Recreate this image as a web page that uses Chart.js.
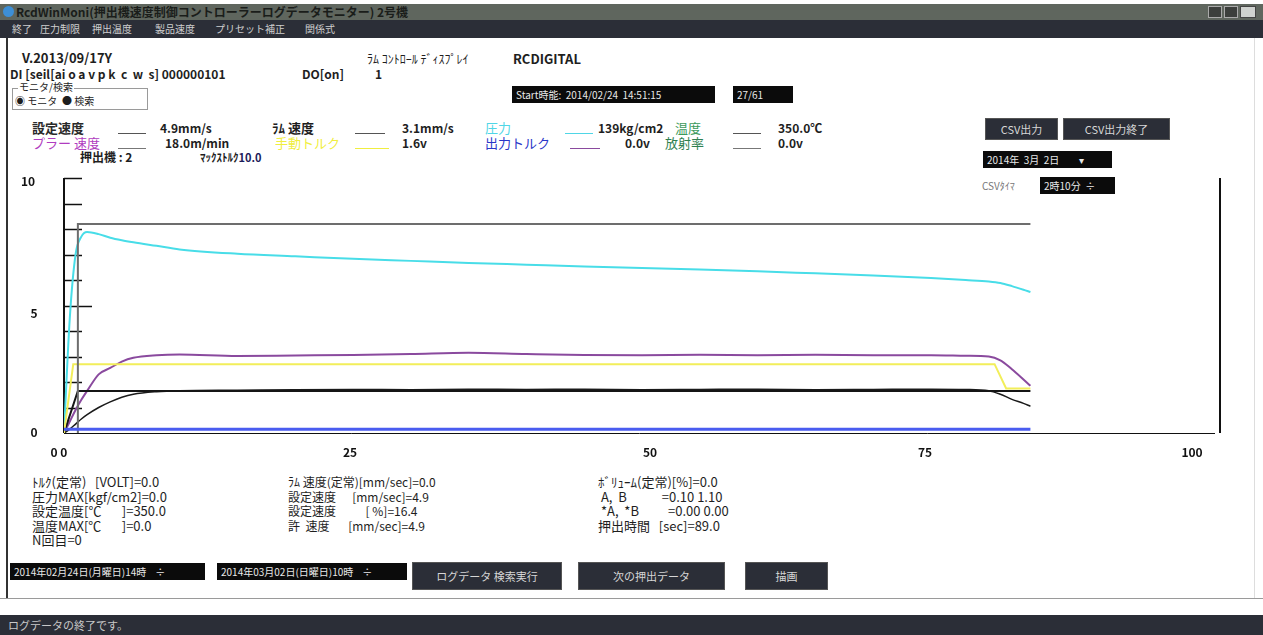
<!DOCTYPE html>
<html lang="ja">
<head>
<meta charset="utf-8">
<title>RcdWinMoni</title>
<script src="https://cdn.jsdelivr.net/npm/chart.js@4.4.1/dist/chart.umd.min.js"></script>
<style>
  html, body { margin: 0; padding: 0; background: #fff; }
  #win { position: relative; width: 1263px; height: 635px; overflow: hidden; background: #fff;
         font-family: "Noto Sans CJK JP", "Noto Sans", sans-serif; }
  .abs { position: absolute; }
  .t { position: absolute; white-space: pre; font-size: 12px; line-height: 14px; color: #1e1e1e; }
  .b { font-weight: 700; }
  .s13 { font-size: 13px; line-height: 14px; }
  .box { position: absolute; background: #0b0b0b; color: #e8e8e8; font-size: 10px; line-height: 17px;
         white-space: pre; padding-left: 4px; box-sizing: border-box; }
  .btn { position: absolute; background: #2b2e37; color: #d6d6d6; font-size: 11px; text-align: center;
         border: 1px solid #555; box-sizing: border-box; }
  .ul { position: absolute; height: 1px; }
  .menu { position: absolute; top: 22px; font-size: 10px; line-height: 14px; color: #cfcfcf; white-space: pre; }
  canvas { position: absolute; left: 0; top: 0; }
</style>
</head>
<body>
<div id="win">
  <!-- window chrome -->
  <div class="abs" style="left:0;top:4px;width:1263px;height:16px;background:#5f665e;"></div>
  <div class="abs" style="left:3px;top:6px;width:11px;height:11px;border-radius:6px;background:#3d8fd6;"></div>
  <div class="t" style="left:16px;top:5px;font-size:12px;font-weight:600;color:#1a1d1a;">RcdWinMoni(押出機速度制御コントローラーログデータモニター) 2号機</div>
  <div class="abs" style="left:1208px;top:6px;width:14px;height:12px;background:#3c3f3c;border:1px solid #aaa;box-sizing:border-box;"></div>
  <div class="abs" style="left:1224px;top:6px;width:14px;height:12px;background:#3c3f3c;border:1px solid #aaa;box-sizing:border-box;"></div>
  <div class="abs" style="left:1240px;top:6px;width:16px;height:12px;background:#cfd2cf;border:1px solid #444;box-sizing:border-box;"></div>
  <div class="abs" style="left:0;top:20px;width:1263px;height:18px;background:#2b2e37;"></div>
  <div class="menu" style="left:12px;">終了</div>
  <div class="menu" style="left:40px;">圧力制限</div>
  <div class="menu" style="left:92px;">押出温度</div>
  <div class="menu" style="left:155px;">製品速度</div>
  <div class="menu" style="left:215px;">プリセット補正</div>
  <div class="menu" style="left:305px;">関係式</div>
  <div class="abs" style="left:6px;top:38px;width:2px;height:560px;background:#333;"></div>
  <div class="abs" style="left:1254px;top:38px;width:1px;height:560px;background:#ddd;"></div>

  <!-- header info -->
  <div class="t b" style="left:22px;top:51px;font-size:13px;">V.2013/09/17Y</div>
  <div class="t b" style="left:10px;top:67px;">DI [seil[ai o a v p k  c  w  s] 000000101</div>
  <div class="t b" style="left:302px;top:67px;">DO[on]</div>
  <div class="t b" style="left:375px;top:67px;">1</div>
  <div class="t" style="left:367px;top:52px;font-size:12px;">ﾗﾑ ｺﾝﾄﾛｰﾙ ﾃﾞｨｽﾌﾟﾚｲ</div>
  <div class="t b" style="left:513px;top:52px;font-size:13px;">RCDIGITAL</div>
  <div class="box" style="left:512px;top:86px;width:203px;height:17px;">Start時能:  2014/02/24  14:51:15</div>
  <div class="box" style="left:733px;top:86px;width:60px;height:17px;">27/61</div>

  <div class="abs" style="left:12px;top:88px;width:136px;height:22px;border:1px solid #9a9a9a;box-sizing:border-box;"></div>
  <div class="t" style="left:18px;top:81px;font-size:10px;line-height:11px;background:#fff;padding:0 1px;">モニタ/検索</div>
  <div class="t" style="left:15px;top:94px;font-size:10px;">◉ モニタ</div>
  <div class="t" style="left:62px;top:94px;font-size:10px;">● 検索</div>

  <!-- legend rows -->
  <div class="t b s13" style="left:32px;top:121px;color:#2a2a2a;">設定速度</div>
  <div class="ul" style="left:118px;top:133px;width:28px;background:#555;"></div>
  <div class="t b" style="left:160px;top:121px;">4.9mm/s</div>
  <div class="t b s13" style="left:272px;top:121px;">ﾗﾑ 速度</div>
  <div class="ul" style="left:355px;top:133px;width:30px;background:#555;"></div>
  <div class="t b" style="left:402px;top:121px;">3.1mm/s</div>
  <div class="t s13" style="left:485px;top:121px;color:#4fd6e6;">圧力</div>
  <div class="ul" style="left:565px;top:133px;width:28px;background:#4fd6e6;"></div>
  <div class="t b" style="left:598px;top:121px;">139kg/cm2</div>
  <div class="t s13" style="left:675px;top:121px;color:#3c9a5c;">温度</div>
  <div class="ul" style="left:733px;top:133px;width:28px;background:#555;"></div>
  <div class="t b" style="left:778px;top:121px;">350.0℃</div>

  <div class="t s13" style="left:32px;top:136px;color:#b03cc0;">プラー 速度</div>
  <div class="ul" style="left:118px;top:148px;width:28px;background:#777;"></div>
  <div class="t b" style="left:165px;top:136px;">18.0m/min</div>
  <div class="t s13" style="left:275px;top:136px;color:#f0ee40;">手動トルク</div>
  <div class="ul" style="left:355px;top:148px;width:34px;background:#f0ee40;"></div>
  <div class="t b" style="left:402px;top:136px;">1.6v</div>
  <div class="t s13" style="left:485px;top:136px;color:#2a36c8;">出力トルク</div>
  <div class="ul" style="left:570px;top:148px;width:30px;background:#8a4a9e;"></div>
  <div class="t b" style="left:625px;top:136px;">0.0v</div>
  <div class="t s13" style="left:665px;top:136px;color:#2f7f50;">放射率</div>
  <div class="ul" style="left:733px;top:148px;width:28px;background:#777;"></div>
  <div class="t b" style="left:778px;top:136px;">0.0v</div>

  <div class="t b" style="left:80px;top:150px;">押出機 : 2</div>
  <div class="t b" style="left:200px;top:150px;font-size:11px;">ﾏｯｸｽﾄﾙｸ<span style="color:#1c1c5a;">10.0</span></div>

  <!-- right controls -->
  <div class="btn" style="left:985px;top:118px;width:73px;height:22px;line-height:20px;">CSV出力</div>
  <div class="btn" style="left:1063px;top:118px;width:107px;height:22px;line-height:20px;">CSV出力終了</div>
  <div class="box" style="left:983px;top:151px;width:129px;height:17px;">2014年  3月  2日         ▾</div>
  <div class="t" style="left:982px;top:179px;font-size:10px;color:#777;">CSVﾀｲﾏ</div>
  <div class="box" style="left:1040px;top:177px;width:75px;height:17px;">2時10分  ÷</div>

  <!-- bottom summary -->
  <div class="t s13" style="left:32px;top:475px;">ﾄﾙｸ(定常)   [VOLT]=0.0</div>
  <div class="t s13" style="left:32px;top:490px;">圧力MAX[kgf/cm2]=0.0</div>
  <div class="t s13" style="left:32px;top:504px;">設定温度[℃       ]=350.0</div>
  <div class="t s13" style="left:32px;top:519px;">温度MAX[℃       ]=0.0</div>
  <div class="t s13" style="left:32px;top:533px;">N回目=0</div>

  <div class="t" style="left:288px;top:475px;">ﾗﾑ 速度(定常)[mm/sec]=0.0</div>
  <div class="t" style="left:288px;top:490px;">設定速度      [mm/sec]=4.9</div>
  <div class="t" style="left:288px;top:504px;">設定速度           [ %]=16.4</div>
  <div class="t" style="left:288px;top:519px;">許  速度       [mm/sec]=4.9</div>

  <div class="t s13" style="left:598px;top:475px;">ﾎﾞﾘｭｰﾑ(定常)[%]=0.0</div>
  <div class="t s13" style="left:598px;top:490px;"> A,  B            =0.10 1.10</div>
  <div class="t s13" style="left:598px;top:504px;"> *A,  *B          =0.00 0.00</div>
  <div class="t s13" style="left:598px;top:519px;">押出時間   [sec]=89.0</div>

  <div class="box" style="left:10px;top:563px;width:195px;height:17px;">2014年02月24日(月曜日)14時    ÷</div>
  <div class="box" style="left:217px;top:563px;width:190px;height:17px;">2014年03月02日(日曜日)10時    ÷</div>
  <div class="btn" style="left:412px;top:562px;width:150px;height:28px;line-height:26px;">ログデータ  検索実行</div>
  <div class="btn" style="left:578px;top:562px;width:147px;height:28px;line-height:26px;">次の押出データ</div>
  <div class="btn" style="left:745px;top:562px;width:83px;height:28px;line-height:26px;">描画</div>

  <div class="abs" style="left:0;top:598px;width:1263px;height:1px;background:#9a9a9a;"></div>
  <div class="abs" style="left:0;top:615px;width:1263px;height:20px;background:#2b2e37;"></div>
  <div class="t" style="left:8px;top:618px;font-size:11px;color:#c8c8c8;">ログデータの終了です。</div>

  <canvas id="chart" width="1263" height="635"></canvas>
</div>

<script>
// time axis in seconds for the sampled curves
const TIME = [0, 0.5, 1, 1.5, 2, 3, 4, 5, 6, 8, 10, 15, 20, 25, 30, 35, 40, 45, 50, 55, 60, 65, 70, 75, 78, 80, 81, 82, 83, 83.6];

// 圧力 (scaled 0-10)
const PRESSURE = [0, 4.5, 7.0, 7.7, 7.88, 7.8, 7.66, 7.56, 7.48, 7.34, 7.2, 7.03, 6.93, 6.83, 6.75, 6.67, 6.6, 6.53, 6.47, 6.41, 6.34, 6.26, 6.18, 6.08, 6.0, 5.94, 5.88, 5.76, 5.62, 5.53];
// 出力トルク
const OUTPUT_TORQUE = [0, 0.45, 0.9, 1.3, 1.65, 2.3, 2.55, 2.8, 2.95, 3.05, 3.08, 3.02, 3.04, 3.06, 3.1, 3.15, 3.1, 3.06, 3.05, 3.07, 3.05, 3.07, 3.05, 3.05, 3.03, 3.0, 2.85, 2.5, 2.1, 1.85];
// ラム速度
const RAM_SPEED = [0, 0.15, 0.35, 0.55, 0.72, 1.0, 1.22, 1.4, 1.52, 1.62, 1.66, 1.68, 1.7, 1.71, 1.7, 1.72, 1.71, 1.72, 1.7, 1.71, 1.72, 1.7, 1.71, 1.72, 1.71, 1.66, 1.52, 1.32, 1.16, 1.05];

// step-shaped traces, each with its own time points
const SET_SPEED_TIME = [0, 1.2, 83.6];
const SET_SPEED = [0, 1.65, 1.65];
const TEMP_TIME = [1.2, 1.2, 83.6];
const TEMP = [0, 8.2, 8.2];
const MANUAL_TORQUE_TIME = [0, 0.8, 80.5, 81.5, 83.6];
const MANUAL_TORQUE = [0, 2.7, 2.7, 1.75, 1.75];
const EMISSIVITY_TIME = [0, 83.6];
const EMISSIVITY = [0.15, 0.15];

// axis labels
const X_TICKS = [25, 50, 75, 100];
const X_TICK_LABELS = ['25', '50', '75', '100'];
const Y_TICKS = [0, 5, 10];
const Y_TICK_LABELS = ['0', '5', '10'];

const pts = (ts, vs) => ts.map((t, i) => ({ x: t, y: vs[i] }));

// axes drawn the way the monitor draws them: ticks pointing into the plot
const monitorAxes = {
  id: 'monitorAxes',
  beforeDatasetsDraw(chart) {
    const { ctx, chartArea: a, scales: { x, y } } = chart;
    ctx.save();
    ctx.strokeStyle = '#111';
    ctx.lineWidth = 2;
    ctx.beginPath();
    ctx.moveTo(a.left, y.getPixelForValue(10));
    ctx.lineTo(a.left, y.getPixelForValue(0));
    ctx.stroke();
    ctx.lineWidth = 1.5;
    for (let v = 1; v <= 10; v++) {
      const py = Math.round(y.getPixelForValue(v)) + 0.5;
      ctx.beginPath();
      ctx.moveTo(a.left, py);
      ctx.lineTo(a.left + (v === 5 ? 28 : 18), py);
      ctx.stroke();
    }
    ctx.lineWidth = 1;
    const py0 = Math.round(y.getPixelForValue(0)) + 0.5;
    ctx.beginPath();
    ctx.moveTo(a.left, py0);
    ctx.lineTo(a.right - 5, py0);
    ctx.stroke();
    ctx.lineWidth = 2;
    ctx.beginPath();
    ctx.moveTo(a.right, a.top);
    ctx.lineTo(a.right, a.bottom);
    ctx.stroke();

    ctx.fillStyle = '#111';
    ctx.font = 'bold 12px "Noto Sans CJK JP", sans-serif';
    ctx.textBaseline = 'middle';
    ctx.textAlign = 'center';
    const yShift = [ -1, 8, 3 ];
    Y_TICKS.forEach((v, i) => {
      const lx = Y_TICK_LABELS[i].length > 1 ? 28 : 34;
      ctx.fillText(Y_TICK_LABELS[i], lx, y.getPixelForValue(v) + yShift[i]);
    });
    const xShift = [ -3, 8, -6, -28 ];
    const ly = y.getPixelForValue(0) + 19;
    ctx.fillText('0 0', 59, ly);
    X_TICKS.forEach((v, i) => {
      ctx.fillText(X_TICK_LABELS[i], x.getPixelForValue(v) + xShift[i], ly);
    });
    ctx.restore();
  }
};

const smooth = { cubicInterpolationMode: 'monotone', tension: 0.4 };

new Chart(document.getElementById('chart'), {
  type: 'line',
  data: {
    datasets: [
      { label: '放射率', data: pts(EMISSIVITY_TIME, EMISSIVITY), borderColor: '#4a5cf0', borderWidth: 3, tension: 0 },
      { label: '温度', data: pts(TEMP_TIME, TEMP), borderColor: '#6d6d6d', borderWidth: 2, tension: 0 },
      { label: '手動トルク', data: pts(MANUAL_TORQUE_TIME, MANUAL_TORQUE), borderColor: '#f2ee5a', borderWidth: 2, tension: 0 },
      { label: '設定速度', data: pts(SET_SPEED_TIME, SET_SPEED), borderColor: '#151515', borderWidth: 2, tension: 0 },
      { label: 'ラム速度', data: pts(TIME, RAM_SPEED), borderColor: '#1a1a1a', borderWidth: 1.5, ...smooth },
      { label: '出力トルク', data: pts(TIME, OUTPUT_TORQUE), borderColor: '#8a4a9e', borderWidth: 2, ...smooth },
      { label: '圧力', data: pts(TIME, PRESSURE), borderColor: '#48dde8', borderWidth: 2, ...smooth }
    ]
  },
  options: {
    responsive: false,
    animation: false,
    layout: { padding: { left: 64, right: 43, top: 178, bottom: 202 } },
    elements: { point: { radius: 0 } },
    scales: {
      x: { type: 'linear', min: 0, max: 100, display: false },
      y: { type: 'linear', min: 0, max: 10, display: false }
    },
    plugins: { legend: { display: false }, tooltip: { enabled: false } }
  },
  plugins: [monitorAxes]
});
</script>
</body>
</html>
